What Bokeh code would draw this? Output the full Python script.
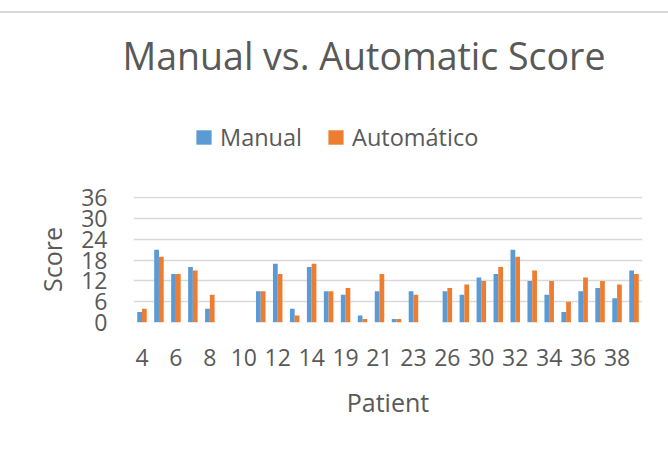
from bokeh.plotting import figure
from bokeh.layouts import column
from bokeh.models import (Range1d, FixedTicker, Legend, LegendItem, Title,
                          ColumnDataSource, Div)
from bokeh.transform import dodge
from bokeh.embed import file_html
from bokeh.resources import INLINE

# ---- data ----
patients = ["4", "5", "6", "7", "8", "9", "10", "11", "12", "13", "14", "15",
            "19", "20", "21", "22", "23", "24", "26", "27", "30", "31", "32",
            "33", "34", "35", "36", "37", "38", "39"]
manual = [3, 21, 14, 16, 4, 0, 0, 9, 17, 4, 16, 9,
          8, 2, 9, 1, 9, 0, 9, 8, 13, 14, 21,
          12, 8, 3, 9, 10, 7, 15]
automatico = [4, 19, 14, 15, 8, 0, 0, 9, 14, 2, 17, 9,
              10, 1, 14, 1, 8, 0, 10, 11, 12, 16, 19,
              15, 12, 6, 13, 12, 11, 14]
y_ticks = [0, 6, 12, 18, 24, 30, 36]

title_text = "Manual vs. Automatic Score"
series_names = ["Manual", "Automático"]
x_title = "Patient"
y_title = "Score"

BLUE = "#5B9BD5"
ORANGE = "#ED7D31"
TEXT = "#595959"
GRID = "#D9D9D9"
FONT = "Open Sans"

W = 668
RULE_TOP = 11
RULE_BOX = 16
HEAD_BOTTOM = 160
TOP_H = HEAD_BOTTOM - RULE_TOP - RULE_BOX
MAIN_H = 296
FRAME_L = 133
FRAME_R = 642

idx = list(range(len(patients)))
src = ColumnDataSource(dict(idx=idx, manual=manual, auto=automatico))

# ---------- thin grey rule across the top ----------
rule = Div(text="", width=W, height=RULE_BOX, margin=(RULE_TOP, 0, 0, 0),
           styles={"background": "linear-gradient(%s 0px, %s 2px, white 2px)"
                   % (GRID, GRID)})

# ---------- header: title + legend ----------
head = figure(width=W, height=TOP_H, output_backend="svg", toolbar_location=None,
              x_range=Range1d(0, 1), y_range=Range1d(0, 1),
              x_axis_type=None, y_axis_type=None,
              min_border_left=FRAME_L, min_border_right=W - FRAME_R,
              min_border_top=0, min_border_bottom=0)
head.grid.visible = False
head.outline_line_color = None
head.border_fill_color = "white"
head.title = Title(text=title_text, text_font=FONT, text_font_size="37.5px",
                   text_font_style="normal", text_color=TEXT, align="left",
                   offset=-11, standoff=0)

# legend swatches: hidden renderers sharing the chart data
h1 = head.vbar(x="idx", top="manual", width=0.28, source=src,
               fill_color=BLUE, line_color=None, visible=False)
h2 = head.vbar(x="idx", top="auto", width=0.28, source=src,
               fill_color=ORANGE, line_color=None, visible=False)
legend = Legend(items=[LegendItem(label=series_names[0], renderers=[h1]),
                       LegendItem(label=series_names[1], renderers=[h2])],
                orientation="horizontal", location=(194 - FRAME_L, 7),
                glyph_width=19, glyph_height=18, label_standoff=7, spacing=24,
                padding=0, margin=0, border_line_color=None,
                background_fill_alpha=0, inactive_fill_alpha=0,
                label_text_font=FONT, label_text_font_size="23.5px",
                label_text_color=TEXT)
head.add_layout(legend, "center")

# ---------- main chart ----------
p = figure(width=W, height=MAIN_H, output_backend="svg", toolbar_location=None,
           x_range=Range1d(-0.5, len(patients) - 0.5),
           y_range=Range1d(0, 36.4),
           min_border_left=FRAME_L, min_border_right=W - FRAME_R,
           min_border_top=36, min_border_bottom=134)
p.outline_line_color = None
p.border_fill_color = "white"

r1 = p.vbar(x=dodge("idx", -0.14, range=p.x_range), top="manual", width=0.28,
            source=src, fill_color=BLUE, line_color=None)
r2 = p.vbar(x=dodge("idx", 0.14, range=p.x_range), top="auto", width=0.28,
            source=src, fill_color=ORANGE, line_color=None)

p.xgrid.grid_line_color = None
p.ygrid.grid_line_color = GRID
p.ygrid.grid_line_width = 1.5
p.yaxis.ticker = FixedTicker(ticks=y_ticks)
p.ygrid.ticker = FixedTicker(ticks=y_ticks)
p.xaxis.ticker = FixedTicker(ticks=idx[::2])
p.xaxis.major_label_overrides = {i: patients[i] for i in idx[::2]}

for ax in (p.xaxis, p.yaxis):
    ax.axis_line_color = None
    ax.major_tick_line_color = None
    ax.minor_tick_line_color = None
    ax.major_label_text_font = FONT
    ax.major_label_text_font_size = "23px"
    ax.major_label_text_color = TEXT
    ax.axis_label_text_font = FONT
    ax.axis_label_text_font_size = "25px"
    ax.axis_label_text_font_style = "normal"
    ax.axis_label_text_color = TEXT

p.xaxis.axis_label = x_title
p.yaxis.axis_label = y_title
p.xaxis.major_label_standoff = 20
p.yaxis.major_label_standoff = 20
p.xaxis.axis_label_standoff = 16
p.yaxis.axis_label_standoff = 9

layout = column(rule, head, p, spacing=0)
open("out.html", "w").write(file_html(layout, INLINE))
